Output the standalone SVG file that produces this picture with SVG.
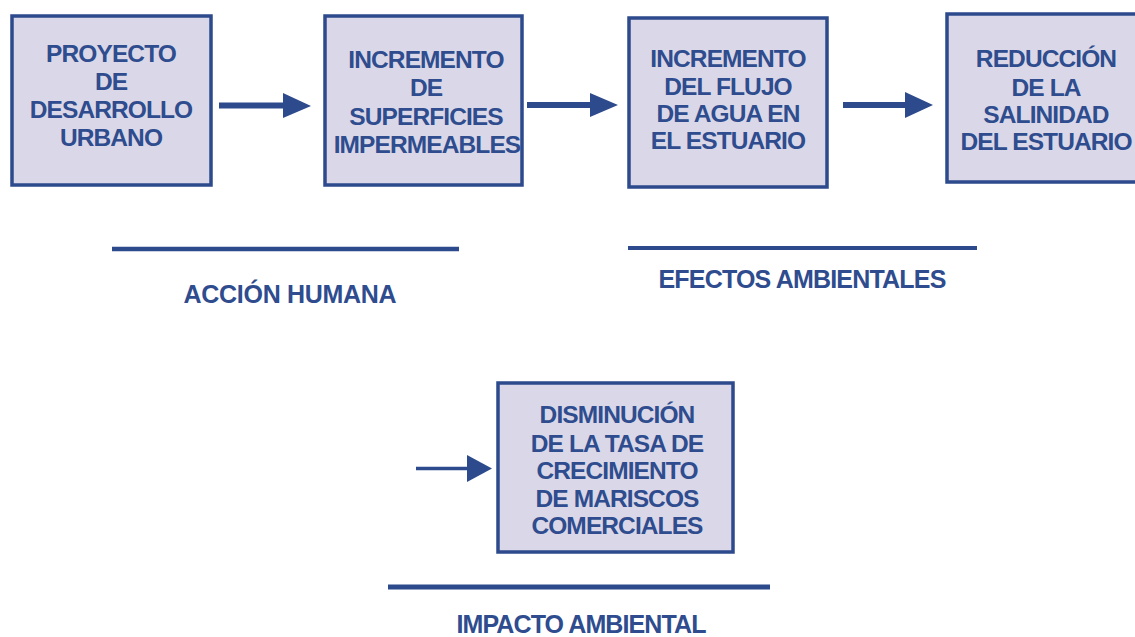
<svg xmlns="http://www.w3.org/2000/svg" width="1135" height="637" viewBox="0 0 1135 637">
<style>
.box{fill:#dad8e8;stroke:#2c4a8c;stroke-width:3.5}
.t{font-family:"Liberation Sans",Arial,sans-serif;font-weight:bold;font-size:24.5px;fill:#2e4c8e;text-anchor:middle;letter-spacing:-0.9px}
.lb{font-size:25px}
.ln{stroke:#2c4a8c;fill:none}
.hd{fill:#2c4a8c}
</style>
<rect width="1135" height="637" fill="#ffffff"/>
<g id="n1">
<rect class="box" x="12" y="16" width="199" height="169"/>
<text class="t" x="111" y="62">PROYECTO</text>
<text class="t" x="111" y="90">DE</text>
<text class="t" x="111" y="118">DESARROLLO</text>
<text class="t" x="111" y="146">URBANO</text>
</g>
<g id="n2">
<rect class="box" x="325" y="16" width="197" height="169"/>
<text class="t" x="426" y="68">INCREMENTO</text>
<text class="t" x="426" y="96">DE</text>
<text class="t" x="426" y="125">SUPERFICIES</text>
<text class="t" x="427" y="153">IMPERMEABLES</text>
</g>
<g id="n3">
<rect class="box" x="629" y="18" width="198" height="169"/>
<text class="t" x="728" y="67">INCREMENTO</text>
<text class="t" x="728" y="95">DEL FLUJO</text>
<text class="t" x="728" y="122">DE AGUA EN</text>
<text class="t" x="728" y="149">EL ESTUARIO</text>
</g>
<g id="n4">
<rect class="box" x="947" y="14" width="200" height="168"/>
<text class="t" x="1046" y="67">REDUCCIÓN</text>
<text class="t" x="1046" y="96">DE LA</text>
<text class="t" x="1046" y="123">SALINIDAD</text>
<text class="t" x="1046" y="150">DEL ESTUARIO</text>
</g>
<g id="n5">
<rect class="box" x="498" y="383" width="235" height="169"/>
<text class="t" x="617" y="423">DISMINUCIÓN</text>
<text class="t" x="617" y="452">DE LA TASA DE</text>
<text class="t" x="617" y="479">CRECIMIENTO</text>
<text class="t" x="617" y="507">DE MARISCOS</text>
<text class="t" x="617" y="534">COMERCIALES</text>
</g>
<g id="labels">
<line class="ln" x1="112" y1="249" x2="459" y2="249" stroke-width="4.5"/>
<text class="t lb" x="290" y="303" style="letter-spacing:-0.3px">ACCIÓN HUMANA</text>
<line class="ln" x1="628" y1="248" x2="977" y2="248" stroke-width="4"/>
<text class="t lb" x="802" y="288" style="letter-spacing:-0.8px">EFECTOS AMBIENTALES</text>
<line class="ln" x1="388" y1="587" x2="770" y2="587" stroke-width="5"/>
<text class="t lb" x="581" y="633" style="letter-spacing:-0.9px">IMPACTO AMBIENTAL</text>
</g>
<g id="connectors">
<line class="ln" x1="219" y1="105.5" x2="286" y2="105.5" stroke-width="6"/>
<polygon class="hd" points="283,93 311,106 283,118"/>
<line class="ln" x1="527" y1="105" x2="592" y2="105" stroke-width="6"/>
<polygon class="hd" points="590,93 618,105 590,117"/>
<line class="ln" x1="843" y1="105" x2="907" y2="105" stroke-width="6"/>
<polygon class="hd" points="905,92 933,105 905,118"/>
<line class="ln" x1="416" y1="468.5" x2="469" y2="468.5" stroke-width="3.5"/>
<polygon class="hd" points="467,455 492,468.5 467,482"/>
</g>
</svg>
